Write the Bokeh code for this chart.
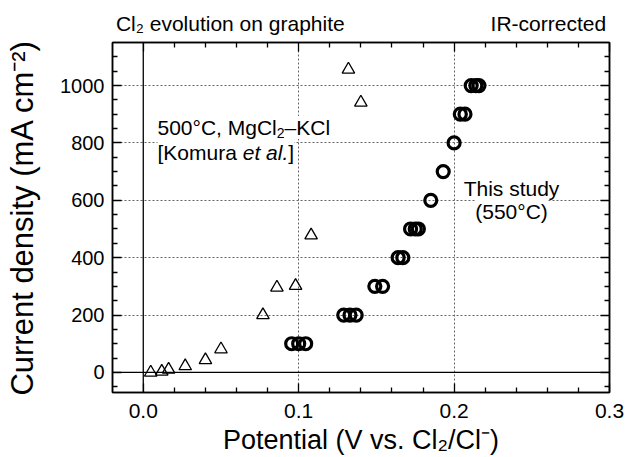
from bokeh.plotting import figure
from bokeh.models import Label, Span, LinearAxis, FixedTicker
from bokeh.embed import file_html
from bokeh.resources import INLINE

# ---------------- data ----------------
komura_x = [0.0048, 0.0119, 0.0163, 0.0270, 0.0400, 0.0500, 0.0770, 0.0860, 0.0980, 0.1080, 0.1320, 0.1400]
komura_y = [0, 3, 10, 22, 43, 81, 200, 296, 302, 478, 1056, 941]

study_x = [0.0955, 0.1000, 0.1045,
           0.1290, 0.1330, 0.1370,
           0.1490, 0.1540,
           0.1640, 0.1670,
           0.1720, 0.1750, 0.1770,
           0.1850,
           0.1930,
           0.2000,
           0.2040, 0.2070,
           0.2110, 0.2140, 0.2160]
study_y = [100, 100, 100,
           200, 200, 200,
           300, 300,
           400, 400,
           500, 500, 500,
           600,
           700,
           800,
           900, 900,
           1000, 1000, 1000]

x_ticks = [0.0, 0.1, 0.2, 0.3]
x_tick_labels = ["0.0", "0.1", "0.2", "0.3"]
x_minor = [-0.02, 0.02, 0.04, 0.06, 0.08, 0.12, 0.14, 0.16, 0.18, 0.22, 0.24, 0.26, 0.28]
y_ticks = [0, 200, 400, 600, 800, 1000]
y_tick_labels = ["0", "200", "400", "600", "800", "1000"]
y_minor = [-50, 50, 100, 150, 250, 300, 350, 450, 500, 550, 650, 700, 750,
           850, 900, 950, 1050, 1100]
x_grid = [0.1, 0.2]
y_grid = [200, 400, 600, 800, 1000]

x_title = "Potential (V vs. Cl\u2082/Cl\u207b)"
y_title = "Current density (mA cm\u207b\u00b2)"
header_left = "Cl\u2082 evolution on graphite"
header_right = "IR-corrected"

FONT = "Liberation Sans"
CW, CH = 627, 457
FL, FT, FR, FB = 112, 42, 609, 392      # plot frame box (canvas px)

p = figure(width=CW, height=CH, x_range=(-0.0198, 0.3), y_range=(-70, 1150),
           output_backend="svg", toolbar_location=None,
           min_border_left=FL, min_border_right=CW - FR,
           min_border_top=FT, min_border_bottom=CH - FB)
p.background_fill_color = "white"
p.border_fill_color = "white"
p.outline_line_color = "black"
p.outline_line_width = 1.5

def style_axis(ax, ticks, minor, labels=None, size="20px", standoff=8):
    ax.ticker = FixedTicker(ticks=ticks, minor_ticks=minor)
    ax.axis_line_color = "black"
    ax.axis_line_width = 1.5
    ax.major_tick_line_color = "black"
    ax.minor_tick_line_color = "black"
    ax.major_tick_line_width = 1.3
    ax.minor_tick_line_width = 1.3
    ax.major_tick_in = 9
    ax.major_tick_out = 0
    ax.minor_tick_in = 5
    ax.minor_tick_out = 0
    ax.axis_label_text_font = FONT
    ax.axis_label_text_font_style = "normal"
    ax.axis_label_text_color = "black"
    if labels is None:
        ax.major_label_text_font_size = "0px"
        ax.major_label_text_color = None
        ax.major_label_standoff = 0
    else:
        ax.major_label_overrides = {t: l for t, l in zip(ticks, labels)}
        ax.major_label_text_font = FONT
        ax.major_label_text_font_size = size
        ax.major_label_text_color = "black"
        ax.major_label_standoff = standoff

xb = p.xaxis[0]
yl = p.yaxis[0]
style_axis(xb, x_ticks, x_minor, x_tick_labels, "21px", 11)
style_axis(yl, y_ticks, y_minor, y_tick_labels, "20px", 8)
xb.axis_label = x_title
xb.axis_label_text_font_size = "27px"
xb.axis_label_standoff = 4
yl.axis_label = y_title
yl.axis_label_text_font_size = "31px"
yl.axis_label_standoff = 17

top_ax = LinearAxis()
right_ax = LinearAxis()
style_axis(top_ax, x_ticks, x_minor)
style_axis(right_ax, y_ticks, y_minor)
# header line: both header texts share the top axis title, spread apart with no-break spaces
top_ax.axis_label = header_left + "\u00a0" * 25 + header_right
top_ax.axis_label_text_font_size = "21px"
top_ax.axis_label_standoff = 8
p.add_layout(top_ax, "above")
p.add_layout(right_ax, "right")

p.xgrid.ticker = FixedTicker(ticks=x_grid)
p.ygrid.ticker = FixedTicker(ticks=y_grid)
for g in (p.xgrid[0], p.ygrid[0]):
    g.grid_line_color = "#666666"
    g.grid_line_dash = "2 2"
    g.grid_line_width = 1

p.add_layout(Span(location=0, dimension="height", line_color="black", line_width=1.3))
p.add_layout(Span(location=0, dimension="width", line_color="black", line_width=1.3))

p.scatter(komura_x, komura_y, marker="triangle", size=12.5, fill_color=None,
          line_color="black", line_width=1.3)
p.scatter(study_x, study_y, marker="circle", size=12, fill_color=None,
          line_color="black", line_width=3.2)

# -------- in-plot annotations (Arial / Liberation Sans advance widths) --------
W = {" ": 278, "(": 333, ")": 333, ",": 278, "-": 333, ".": 278, "/": 278,
     "[": 278, "]": 278, "°": 400, "–": 556, "−": 584,
     "A": 667, "C": 722, "I": 278, "K": 667, "M": 833, "P": 667, "R": 722,
     "T": 611, "V": 667,
     "a": 556, "c": 500, "d": 556, "e": 556, "g": 556, "h": 556, "i": 222,
     "l": 222, "m": 833, "n": 556, "o": 556, "p": 556, "r": 333, "s": 500,
     "t": 278, "u": 556, "v": 500, "y": 500}

def tw(s, size):
    return sum(W.get(ch, 556) for ch in s) / 1000.0 * size

def runs_h(cx, cy, runs, align="left"):
    total = sum(tw(t, s) for t, s, _, _ in runs)
    x = cx - (total / 2 if align == "center" else total if align == "right" else 0)
    for t, s, dy, st in runs:
        p.add_layout(Label(x=x - FL, y=FB - cy + dy, x_units="screen", y_units="screen",
                           text=t, text_font=FONT, text_font_size=f"{s}px",
                           text_font_style=st, text_color="black",
                           text_align="left", text_baseline="alphabetic",
                           background_fill_color="white"))
        x += tw(t, s)

N = "normal"
I = "italic"
runs_h(157, 127, [("500°C, MgCl", 21, 0, N), ("2", 14, -5, N), ("–KCl", 21, 0, N)])
runs_h(157, 152, [("[Komura ", 21, 0, N), ("et al.", 21, 0, I), ("]", 21, 0, N)])
runs_h(511, 188, [("This study", 21, 0, N)], align="center")
runs_h(511, 211, [("(550°C)", 21, 0, N)], align="center")

open("out.html", "w").write(file_html(p, INLINE))
